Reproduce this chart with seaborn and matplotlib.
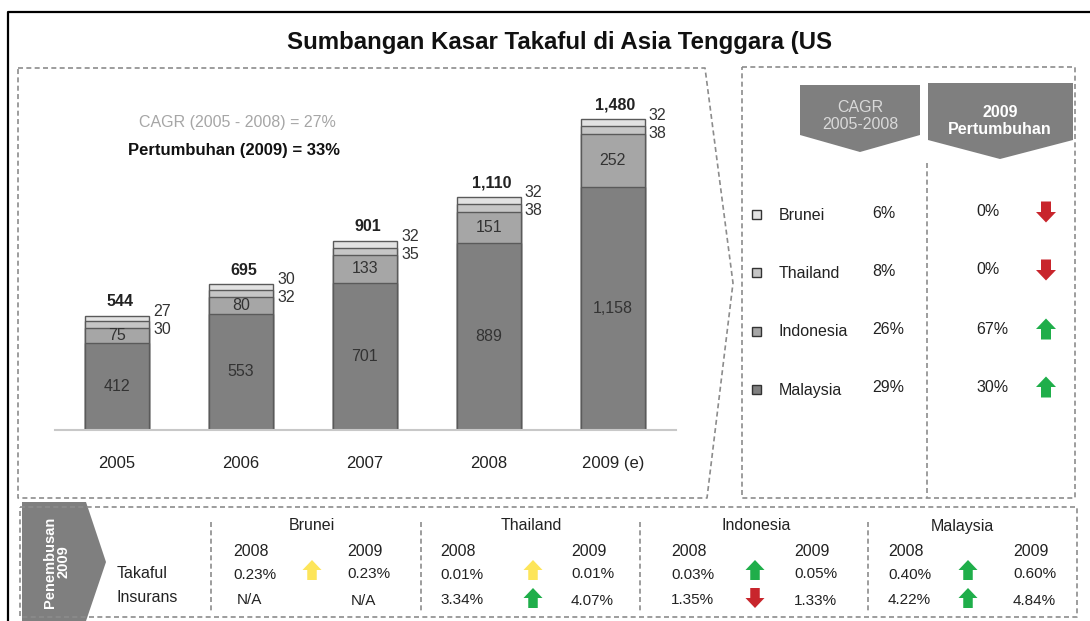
import numpy as np
import pandas as pd
import seaborn as sns
import matplotlib
matplotlib.use('Agg')
from matplotlib import pyplot as plt
from matplotlib.patches import Polygon, Rectangle

sns.set_style('white')
plt.rcParams['font.family'] = ['Liberation Sans', 'DejaVu Sans']

#------------------------------------------------------------------------------
# Data
#------------------------------------------------------------------------------
years = ['2005', '2006', '2007', '2008', '2009 (e)']
malaysia = [412, 553, 701, 889, 1158]
indonesia = [75, 80, 133, 151, 252]
thailand = [30, 32, 35, 38, 38]
brunei = [27, 30, 32, 32, 32]

countries = ['Brunei', 'Thailand', 'Indonesia', 'Malaysia']
cagr = ['6%', '8%', '26%', '29%']
growth = ['0%', '0%', '67%', '30%']
growth_trend = ['down', 'down', 'up', 'up']

takaful_2008 = ['0.23%', '0.01%', '0.03%', '0.40%']
takaful_2009 = ['0.23%', '0.01%', '0.05%', '0.60%']
takaful_trend = ['flat', 'flat', 'up', 'up']
insurans_2008 = ['N/A', '3.34%', '1.35%', '4.22%']
insurans_2009 = ['N/A', '4.07%', '1.33%', '4.84%']
insurans_trend = [None, 'up', 'down', 'up']

#------------------------------------------------------------------------------
# Styles
#------------------------------------------------------------------------------
col_my, col_id, col_th, col_bn = '#808080', '#a6a6a6', '#c6c6c6', '#e2e2e2'
edge = '#5a5a5a'
dash_col = '#8c8c8c'
banner = '#7f7f7f'
arrow_col = {'up': '#1fae4a', 'down': '#c8252c', 'flat': '#fde55a'}
W, H = 1090, 621

fig = plt.figure(figsize=(W / 100, H / 100), dpi=100)

#------------------------------------------------------------------------------
# Stacked bars
#------------------------------------------------------------------------------
df = pd.DataFrame({'year': years, 'Malaysia': malaysia, 'Indonesia': indonesia,
                   'Thailand': thailand, 'Brunei': brunei})
df['c_my'] = df['Malaysia']
df['c_id'] = df['c_my'] + df['Indonesia']
df['c_th'] = df['c_id'] + df['Thailand']
df['total'] = df['c_th'] + df['Brunei']

ax = fig.add_axes([55 / W, (H - 430) / H, 621 / W, 350 / H])
for colname, c in [('total', col_bn), ('c_th', col_th), ('c_id', col_id), ('c_my', col_my)]:
    sns.barplot(data=df, x='year', y=colname, color=c, saturation=1, width=0.515,
                edgecolor=edge, linewidth=1, ax=ax)
ax.set_xlim(-0.5, 4.51)
ax.set_ylim(0, 350 / 0.21)
ax.set_xlabel('')
ax.set_ylabel('')
ax.set_yticks([])
for s in ['top', 'right', 'left']:
    ax.spines[s].set_visible(False)
ax.spines['bottom'].set_color('#c8c8c8')
ax.spines['bottom'].set_linewidth(1.5)
ax.tick_params(axis='x', length=0, pad=19, labelsize=12, labelcolor='#222222')
ax.patch.set_alpha(0)

for i, row in df.iterrows():
    ax.text(i, row['Malaysia'] / 2, f"{row['Malaysia']:,}", ha='center', va='center',
            fontsize=11.5, color='#333333')
    ax.text(i, row['c_my'] + row['Indonesia'] / 2, f"{row['Indonesia']:,}", ha='center',
            va='center', fontsize=11.5, color='#333333')
    ax.annotate(f"{row['total']:,}", (i, row['total']), xytext=(2, 10),
                textcoords='offset points', ha='center', va='center',
                fontsize=11.5, fontweight='bold', color='#222222')
    ax.annotate(f"{row['Brunei']}", (i + 0.2575, row['total']), xytext=(3, 3),
                textcoords='offset points', ha='left', va='center',
                fontsize=11.5, color='#333333')
    ax.annotate(f"{row['Thailand']}", (i + 0.2575, row['total']), xytext=(3, -10),
                textcoords='offset points', ha='left', va='center',
                fontsize=11.5, color='#333333')

#------------------------------------------------------------------------------
# Overlay in pixel coordinates for frames and tables
#------------------------------------------------------------------------------
ov = fig.add_axes([0, 0, 1, 1])
ov.set_xlim(0, W)
ov.set_ylim(H, 0)
ov.axis('off')
ov.patch.set_alpha(0)

def dashed(xs, ys):
    ov.plot(xs, ys, color=dash_col, lw=1.2, dashes=(3, 2))

def arrow(cx, cy, kind, w=20, h=21):
    bw, hh = w * 0.5, h * 0.5
    if kind == 'down':
        pts = [(cx, cy + h / 2), (cx + w / 2, cy + h / 2 - hh), (cx + bw / 2, cy + h / 2 - hh),
               (cx + bw / 2, cy - h / 2), (cx - bw / 2, cy - h / 2),
               (cx - bw / 2, cy + h / 2 - hh), (cx - w / 2, cy + h / 2 - hh)]
    else:
        pts = [(cx, cy - h / 2), (cx + w / 2, cy - h / 2 + hh), (cx + bw / 2, cy - h / 2 + hh),
               (cx + bw / 2, cy + h / 2), (cx - bw / 2, cy + h / 2),
               (cx - bw / 2, cy - h / 2 + hh), (cx - w / 2, cy - h / 2 + hh)]
    ov.add_patch(Polygon(pts, closed=True, color=arrow_col[kind], lw=0))

# outer border and title
ov.plot([8, 8, W], [H, 12, 12], color='black', lw=1.6)
ov.text(560, 42, 'Sumbangan Kasar Takaful di Asia Tenggara (US', ha='center', va='center',
        fontsize=17.3, fontweight='bold', color='#111111')

# left panel frame with chevron edge
dashed([18, 705, 733, 707, 18, 18], [68, 68, 283, 498, 498, 68])
ov.text(237, 122, 'CAGR (2005 - 2008) = 27%', ha='center', va='center',
        fontsize=11.5, color='#a6a6a6')
ov.text(234, 151, 'Pertumbuhan (2009) = 33%', ha='center', va='center',
        fontsize=12, fontweight='bold', color='#111111')

# right panel
dashed([742, 1075, 1075, 742, 742], [67, 67, 498, 498, 67])
dashed([927, 927], [163, 498])
ov.add_patch(Polygon([(800, 85), (920, 85), (920, 135), (860, 152), (800, 135)],
                     closed=True, color=banner, lw=0))
ov.text(860, 116, 'CAGR\n2005-2008', ha='center', va='center', fontsize=11.5,
        color='#d9d9d9', linespacing=1.1)
ov.add_patch(Polygon([(928, 83), (1073, 83), (1073, 140), (1000, 159), (928, 140)],
                     closed=True, color=banner, lw=0))
ov.text(1000, 121, '2009\nPertumbuhan', ha='center', va='center', fontsize=11.5,
        color='white', fontweight='bold', linespacing=1.1)

row_y = [215, 273, 332, 390]
swatch = [col_bn, col_th, col_id, col_my]
for k, name in enumerate(countries):
    y = row_y[k]
    ov.add_patch(Rectangle((752, y - 5), 9, 9, facecolor=swatch[k], edgecolor='#333333', lw=1))
    ov.text(779, y, name, ha='left', va='center', fontsize=11.5, color='#222222')
    ov.text(872, y - 2, cagr[k], ha='left', va='center', fontsize=11.5, color='#222222')
    ov.text(976, y - 3, growth[k], ha='left', va='center', fontsize=11.5, color='#222222')
    arrow(1046, y - 3, growth_trend[k])

# bottom panel: penetration 2009
dashed([20, 1077, 1077, 20, 20], [507, 507, 617, 617, 507])
ov.add_patch(Polygon([(22, 502), (86, 502), (106, 562), (86, 621), (22, 621)],
                     closed=True, color=banner, lw=0))
ov.text(57, 562, 'Penembusan\n2009', ha='center', va='center', rotation=90,
        fontsize=10.5, fontweight='bold', color='white', linespacing=1.0)
ov.text(117, 573, 'Takaful', ha='left', va='center', fontsize=11.5, color='#222222')
ov.text(117, 598, 'Insurans', ha='left', va='center', fontsize=11.5, color='#222222')

for xd in [211, 421, 640, 868]:
    dashed([xd, xd], [522, 612])

head_x = [312, 531, 756, 962]
left08 = [233, 440, 671, 888]
arrow_x = [312, 533, 755, 968]
left09 = [347, 571, 794, 1013]
for k, name in enumerate(countries):
    ov.text(head_x[k], 526, name, ha='center', va='center', fontsize=11.5, color='#222222')
    ov.text(left08[k], 551, '2008', ha='left', va='center', fontsize=11.5, color='#222222')
    ov.text(left09[k], 552, '2009', ha='left', va='center', fontsize=11.5, color='#222222')
    ov.text(left08[k], 575, takaful_2008[k], ha='left', va='center', fontsize=11, color='#222222')
    ov.text(left09[k], 574, takaful_2009[k], ha='left', va='center', fontsize=11, color='#222222')
    ov.text(left08[k] + (4 if insurans_2008[k] == 'N/A' else 0), 600, insurans_2008[k],
            ha='left', va='center', fontsize=11, color='#222222')
    ov.text(left09[k] + (4 if insurans_2009[k] == 'N/A' else 0), 601, insurans_2009[k],
            ha='left', va='center', fontsize=11, color='#222222')
    arrow(arrow_x[k], 570, takaful_trend[k], w=19, h=20)
    if insurans_trend[k]:
        arrow(arrow_x[k], 598, insurans_trend[k], w=19, h=20)

plt.savefig('out.png', dpi=100)
